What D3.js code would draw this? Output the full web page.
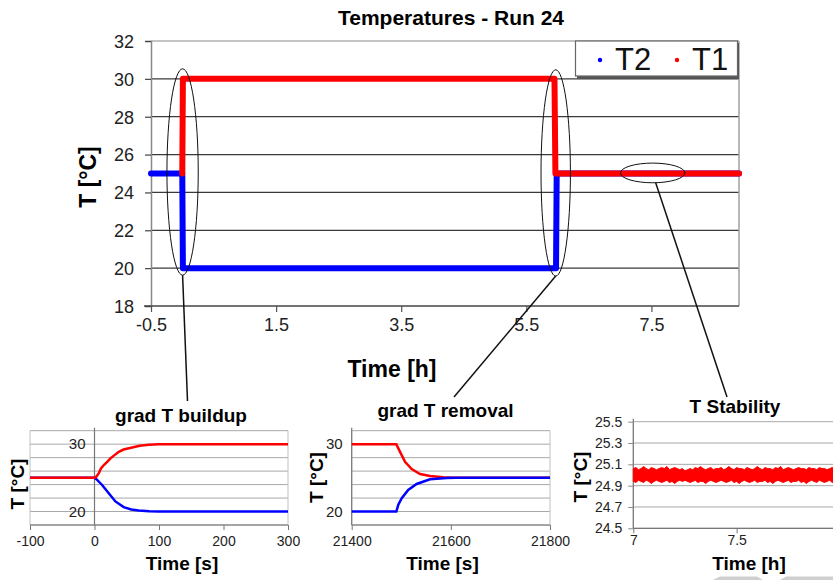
<!DOCTYPE html>
<html><head><meta charset="utf-8">
<script src="https://cdn.jsdelivr.net/npm/d3@7"></script>
<style>
html,body{margin:0;padding:0;background:#fff;overflow:hidden}
text{font-family:"Liberation Sans",Arial,sans-serif}
</style></head>
<body>
<svg id="c" width="833" height="580"></svg>
<script>
// ---------- DATA ----------
// Main chart: time [h], temperature [°C]
const mainT2 = [[-0.5,25],[0.0,25],[0.01,20],[5.975,20],[5.985,24.8],[5.99,25],[8.9,25]];
const mainT1 = [[0.0,25],[0.01,30],[5.95,30],[5.965,25],[8.9,25]];
const mainXTicks = [-0.5,1.5,3.5,5.5,7.5];
const mainYTicks = [18,20,22,24,26,28,30,32];
const seriesNames = ["T2","T1"];

// Inset 1: grad T buildup, time [s]
const buildT1 = [[-100,25],[0,25],[3,25.2],[6.7,25.7],[10,26.4],[14.5,26.9],[20,27.4],[24.8,27.9],[30,28.3],[37.7,28.86],[45,29.2],[58.4,29.5],[70,29.75],[84.2,29.92],[100,29.98],[120,30],[300,30]];
const buildT2 = [[-100,25],[0,25],[3,24.8],[11.8,23.94],[22.1,22.7],[32.4,21.5],[45.3,20.65],[57,20.3],[68.5,20.15],[85,20.05],[100,20],[300,20]];
const buildXTicks = [-100,0,100,200,300];

// Inset 2: grad T removal, time [s]
const remT1 = [[21400,30],[21490,30],[21497.5,28.86],[21507.6,27.38],[21521,26.3],[21537.9,25.57],[21558,25.27],[21585,25.08],[21605,25],[21800,25]];
const remT2 = [[21400,20],[21490,20],[21494,21.0],[21500.9,21.98],[21514,23.2],[21531,24.09],[21558,24.78],[21591.7,24.98],[21610,25],[21800,25]];
const remXTicks = [21400,21600,21800];

const insetYTicks = [20,30];
const insetYGrid = [18,20,22,24,26,28,30,32];

// Inset 3: T stability, time [h] from 7 to 8 in 0.0125 h steps: band edges
const stabStart = 7, stabStep = 0.0125;
const stabUpper = [25.06,25.07,25.05,25.06,25.08,25.06,25.05,25.07,25.06,25.05,
 25.06,25.07,25.06,25.08,25.05,25.06,25.07,25.06,25.05,25.06,
 25.04,25.05,25.06,25.05,25.07,25.06,25.08,25.06,25.05,25.06,
 25.07,25.05,25.06,25.06,25.07,25.05,25.06,25.08,25.06,25.05,
 25.07,25.06,25.06,25.05,25.07,25.06,25.05,25.06,25.08,25.06,
 25.05,25.07,25.06,25.06,25.05,25.07,25.06,25.08,25.05,25.06,
 25.07,25.06,25.05,25.06,25.07,25.06,25.06,25.05,25.07,25.06,
 25.06,25.05,25.07,25.06,25.06,25.05,25.06,25.07,25.06,25.05,25.06];
const stabLower = [24.94,24.93,24.95,24.94,24.93,24.95,24.94,24.92,24.94,24.95,
 24.94,24.93,24.94,24.95,24.93,24.94,24.92,24.94,24.95,24.94,
 24.95,24.94,24.93,24.94,24.95,24.93,24.94,24.94,24.92,24.94,
 24.95,24.94,24.93,24.94,24.95,24.94,24.93,24.94,24.95,24.93,
 24.94,24.92,24.94,24.95,24.94,24.93,24.94,24.95,24.93,24.94,
 24.94,24.95,24.93,24.94,24.92,24.94,24.95,24.94,24.93,24.94,
 24.95,24.93,24.94,24.94,24.95,24.93,24.94,24.92,24.94,24.95,
 24.94,24.93,24.95,24.94,24.93,24.94,24.95,24.93,24.94,24.94,24.95];
const stabXTicks = [7,7.5,8];
const stabYTicks = [24.5,24.7,24.9,25.1,25.3,25.5];

// ---------- DRAW ----------
const svg = d3.select("#c");
const RED = "#ff0000", BLUE = "#0000ff";
const FONT = '"Liberation Sans",Arial,sans-serif';
const hy = f => (d => f(d).replace("\u2212","-"));

// ===== Main chart =====
const mx = d3.scaleLinear().domain([-0.5,8.9]).range([151,739]);
const my = d3.scaleLinear().domain([18,32]).range([306,41]);

const gMain = svg.append("g");
gMain.selectAll("line.grid").data(mainYTicks.filter(v=>v>18&&v<32)).join("line")
  .attr("x1",mx.range()[0]).attr("x2",mx.range()[1])
  .attr("y1",d=>my(d)).attr("y2",d=>my(d))
  .attr("stroke","#3a3a3a").attr("stroke-width",1.2);
gMain.append("line").attr("x1",mx(-0.5)).attr("x2",mx(8.9)).attr("y1",my(32)).attr("y2",my(32)).attr("stroke","#b0b0b0").attr("stroke-width",1.5);
gMain.append("line").attr("x1",mx(8.9)).attr("x2",mx(8.9)).attr("y1",my(32)).attr("y2",my(18)).attr("stroke","#a0a0a0").attr("stroke-width",1.5);

const yAxisMain = d3.axisLeft(my).tickValues(mainYTicks).tickSize(6).tickPadding(11).tickFormat(d3.format("d"));
const gya = gMain.append("g").attr("transform",`translate(${mx(-0.5)},0)`).call(yAxisMain);
gya.select(".domain").attr("stroke","#888").attr("stroke-width",1.5);
gya.selectAll(".tick line").attr("stroke","#444").attr("stroke-width",1.2);
gya.selectAll(".tick text").attr("font-size","18px").attr("fill","#222").attr("font-family",FONT).attr("dy","0.35em");

const xAxisMain = d3.axisBottom(mx).tickValues(mainXTicks).tickSize(6).tickPadding(6).tickFormat(hy(d3.format(".1f")));
const gxa = gMain.append("g").attr("transform",`translate(0,${my(18)})`).call(xAxisMain);
gxa.select(".domain").attr("stroke","#444").attr("stroke-width",1.5).attr("d",`M${mx(-0.5)-7},0H${mx(8.9)}`);
gxa.selectAll(".tick line").attr("stroke","#555").attr("stroke-width",1.2);
gxa.selectAll(".tick text").attr("font-size","18px").attr("fill","#222").attr("font-family",FONT);

const lineMain = d3.line().x(d=>mx(d[0])).y(d=>my(d[1]));
gMain.append("path").datum(mainT2).attr("d",lineMain).attr("fill","none").attr("stroke",BLUE).attr("stroke-width",6).attr("stroke-linecap","round").attr("stroke-linejoin","round");
gMain.append("path").datum(mainT1).attr("d",lineMain).attr("fill","none").attr("stroke",RED).attr("stroke-width",6).attr("stroke-linecap","round").attr("stroke-linejoin","round");

svg.append("text").attr("x",451).attr("y",25).attr("text-anchor","middle").attr("font-weight","bold").attr("font-size","21px").text("Temperatures - Run 24");
svg.append("text").attr("x",392).attr("y",377).attr("text-anchor","middle").attr("font-weight","bold").attr("font-size","23px").text("Time [h]");
svg.append("text").attr("transform","translate(96,177) rotate(-90)").attr("text-anchor","middle").attr("font-weight","bold").attr("font-size","23px").text("T [°C]");

// legend
const lg = svg.append("g");
lg.append("rect").attr("x",577).attr("y",43).attr("width",162).attr("height",36).attr("fill","#555");
lg.append("rect").attr("x",575.5).attr("y",41).attr("width",162).attr("height",35).attr("fill","#fff").attr("stroke","#666").attr("stroke-width",1.2);
const legItems = [{n:seriesNames[0],c:BLUE,x:600},{n:seriesNames[1],c:RED,x:677}];
legItems.forEach(it=>{
  lg.append("circle").attr("cx",it.x).attr("cy",60).attr("r",2.2).attr("fill",it.c);
  lg.append("text").attr("x",it.x+15).attr("y",70).attr("font-size","31px").attr("fill","#111").text(it.n);
});

// annotation ellipses
const ellipses = [
  {t:0.005,T:25.08,rt:0.25,rT:5.45},
  {t:5.97,T:25.03,rt:0.235,rT:5.45},
  {t:7.52,T:25.03,rt:0.515,rT:0.52}
];
ellipses.forEach(e=>{
  svg.append("ellipse").attr("cx",mx(e.t)).attr("cy",my(e.T))
    .attr("rx",mx(e.t+e.rt)-mx(e.t)).attr("ry",my(e.T-e.rT)-my(e.T))
    .attr("fill","none").attr("stroke","#111").attr("stroke-width",1);
});
const leaderEnds = [[187.5,401],[454,397],[727,397]];
ellipses.forEach((e,i)=>{
  svg.append("line").attr("x1",mx(e.t)+ (i===2?3:0)).attr("y1",my(e.T-e.rT))
    .attr("x2",leaderEnds[i][0]).attr("y2",leaderEnds[i][1])
    .attr("stroke","#111").attr("stroke-width",1.5);
});

// ===== Inset helper =====
function inset(opts){
  const g = svg.append("g");
  const x = d3.scaleLinear().domain(opts.xd).range(opts.xr);
  const y = d3.scaleLinear().domain(opts.yd).range(opts.yr);
  g.selectAll("line.grid").data(opts.grid).join("line")
    .attr("x1",opts.xr[0]).attr("x2",opts.xr[1]).attr("y1",d=>y(d)).attr("y2",d=>y(d))
    .attr("stroke","#a8a8a8").attr("stroke-width",1);
  g.append("line").attr("x1",opts.xr[0]).attr("x2",opts.xr[0]).attr("y1",opts.yr[1]).attr("y2",opts.yr[0]).attr("stroke","#c0c0c0");
  g.append("line").attr("x1",opts.xr[1]).attr("x2",opts.xr[1]).attr("y1",opts.yr[1]).attr("y2",opts.yr[0]).attr("stroke","#c0c0c0");
  const ya = d3.axisLeft(y).tickValues(opts.yt).tickSize(opts.yTickSize).tickPadding(opts.yPad).tickFormat(opts.yf);
  const gy = g.append("g").attr("transform",`translate(${x(opts.yAt)},0)`).call(ya);
  gy.select(".domain").attr("stroke","#777").attr("stroke-width",1.2).attr("d",`M0,${opts.yr[1]-3}V${opts.yr[0]}`);
  gy.selectAll(".tick line").attr("stroke","#888");
  gy.selectAll(".tick text").attr("font-size",opts.yfs).attr("fill","#222").attr("font-family",FONT);
  const xa = d3.axisBottom(x).tickValues(opts.xt).tickSize(5).tickPadding(opts.xPad).tickFormat(opts.xf);
  const gx = g.append("g").attr("transform",`translate(0,${opts.yr[0]})`).call(xa);
  gx.select(".domain").attr("stroke","#777").attr("stroke-width",1.2).attr("d",`M${opts.xr[0]},0H${opts.xr[1]}`);
  gx.selectAll(".tick line").attr("stroke","#777");
  gx.selectAll(".tick text").attr("font-size","14px").attr("fill","#222").attr("font-family",FONT);
  g.append("text").attr("x",opts.title[1]).attr("y",opts.title[2]).attr("text-anchor","middle").attr("font-weight","bold").attr("font-size","19px").text(opts.title[0]);
  g.append("text").attr("x",opts.xl[1]).attr("y",opts.xl[2]).attr("text-anchor","middle").attr("font-weight","bold").attr("font-size","19px").text(opts.xl[0]);
  g.append("text").attr("transform",`translate(${opts.yl[0]},${opts.yl[1]}) rotate(-90)`).attr("text-anchor","middle").attr("font-weight","bold").attr("font-size","19px").text("T [°C]");
  return {g,x,y};
}

// Inset 1
const i1 = inset({xd:[-100,300],xr:[30,288],yd:[18,32],yr:[525,430.7],grid:insetYGrid,
  yt:insetYTicks,yAt:0,yTickSize:0,yPad:9,yf:d3.format("d"),yfs:"15px",
  xt:buildXTicks,xf:hy(d3.format("d")),xPad:6,
  title:["grad T buildup",181,422],xl:["Time [s]",182,570],yl:[24,484]});
const l1 = d3.line().x(d=>i1.x(d[0])).y(d=>i1.y(d[1]));
i1.g.append("path").datum(buildT2).attr("d",l1).attr("fill","none").attr("stroke",BLUE).attr("stroke-width",2.5);
i1.g.append("path").datum(buildT1).attr("d",l1).attr("fill","none").attr("stroke",RED).attr("stroke-width",2.5);

// Inset 2
const i2 = inset({xd:[21400,21800],xr:[351.7,550],yd:[18,32],yr:[525,430.7],grid:insetYGrid,
  yt:insetYTicks,yAt:21400,yTickSize:0,yPad:9,yf:d3.format("d"),yfs:"15px",
  xt:remXTicks,xf:d3.format("d"),xPad:6,
  title:["grad T removal",445.5,417],xl:["Time [s]",442.5,570],yl:[323,477.5]});
const l2 = d3.line().x(d=>i2.x(d[0])).y(d=>i2.y(d[1]));
i2.g.append("path").datum(remT1).attr("d",l2).attr("fill","none").attr("stroke",RED).attr("stroke-width",2.5);
i2.g.append("path").datum(remT2).attr("d",l2).attr("fill","none").attr("stroke",BLUE).attr("stroke-width",2.5);

// Inset 3
const i3 = inset({xd:[7,8],xr:[633.3,840],yd:[24.5,25.5],yr:[528.3,421.7],grid:stabYTicks,
  yt:stabYTicks,yAt:7,yTickSize:5,yPad:6,yf:d3.format(".1f"),yfs:"14px",
  xt:stabXTicks,xf:d=>d===7.5?"7.5":d3.format("d")(d),xPad:2,
  title:["T Stability",735,413],xl:["Time [h]",749,570],yl:[587,477]});
const band = stabUpper.map((u,i)=>({t:stabStart+i*stabStep,u:u,l:stabLower[i]}));
i3.g.append("path").datum(band)
  .attr("d",d3.area().x(d=>i3.x(d.t)).y0(d=>i3.y(d.l)).y1(d=>i3.y(d.u)))
  .attr("fill",RED).attr("stroke",RED).attr("stroke-width",1);

// faint decorative shapes at bottom
svg.append("polygon").attr("points","713,580 720,576.5 757,576.5 763,580").attr("fill","#cfcfcf");
svg.append("polygon").attr("points","780,580 786,576.5 833,576.5 833,580").attr("fill","#cfcfcf");
</script>
</body></html>
